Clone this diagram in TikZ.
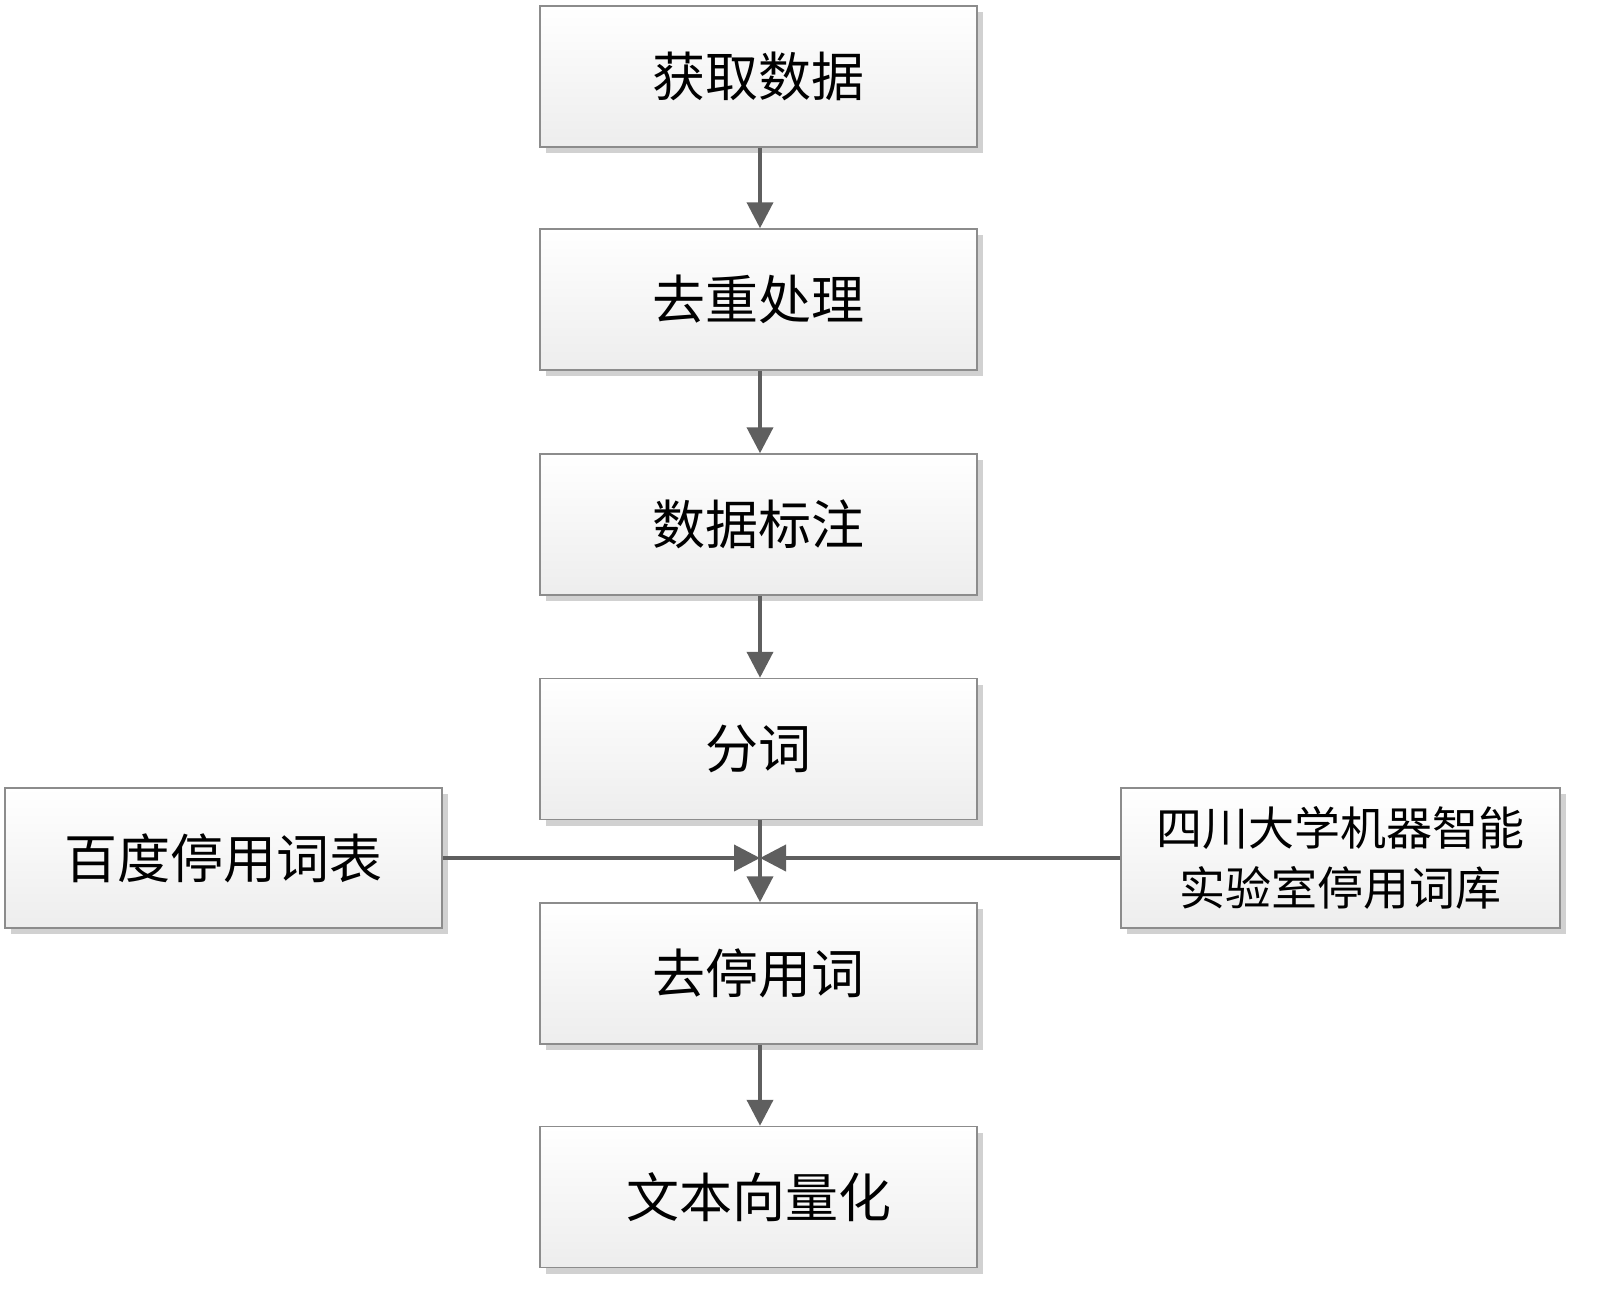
\documentclass[tikz,border=0pt]{standalone}
\usepackage{fontspec}
\newfontfamily\cjk{Noto Sans CJK SC}
\usetikzlibrary{arrows.meta,shadows}
\definecolor{edgegray}{HTML}{8C8C8C}
\definecolor{arrgray}{HTML}{5F5F5F}
\tikzset{
  box/.style={draw=edgegray, line width=1.5pt, rectangle, top color=white, bottom color=black!7,
    minimum width=437pt, minimum height=141pt, inner sep=0pt,
    drop shadow={shadow xshift=6pt, shadow yshift=-6pt, fill=black!18, opacity=1},
    font=\cjk\fontsize{53}{60}\selectfont, text=black},
  sidebox/.style={box, minimum height=140pt, align=center},
  flow/.style={draw=arrgray, line width=4pt, -{Triangle[length=26pt,width=26pt]}}
}
\begin{document}
\begin{tikzpicture}[x=1pt,y=-1pt]
\useasboundingbox (0,0) rectangle (1600,1304);
\node[box] (b1) at (758.5,76.5) {获取数据};
\node[box] (b2) at (758.5,299.5) {去重处理};
\node[box] (b3) at (758.5,524.5) {数据标注};
\node[box] (b4) at (758.5,749) {分词};
\node[box] (b5) at (758.5,973.5) {去停用词};
\node[box] (b6) at (758.5,1197) {文本向量化};
\node[sidebox] (l) at (223.5,858) {百度停用词表};
\node[sidebox, minimum width=439pt, font=\cjk\fontsize{46}{60}\selectfont] (r) at (1340.5,858) {四川大学机器智能\\实验室停用词库};
\coordinate (mid) at (760,858);
\draw[flow] (b1.south -| mid) -- (b2.north -| mid);
\draw[flow] (b2.south -| mid) -- (b3.north -| mid);
\draw[flow] (b3.south -| mid) -- (b4.north -| mid);
\draw[flow] (b4.south -| mid) -- (b5.north -| mid);
\draw[flow] (b5.south -| mid) -- (b6.north -| mid);
\draw[flow] (l.east) -- (mid);
\draw[flow] (r.west) -- (mid);
\end{tikzpicture}
\end{document}
